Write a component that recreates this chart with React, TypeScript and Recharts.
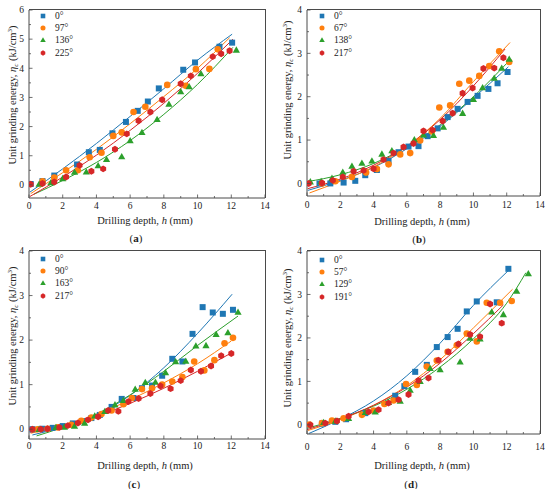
import React from 'react';
import { ComposedChart, Scatter, Line, XAxis, YAxis, Legend } from 'recharts';

// ---------- colours ----------
const BLUE = '#1f77b4';
const ORANGE = '#ff7f0e';
const GREEN = '#2ca02c';
const RED = '#d62728';
const AXIS = '#4a4a4a';
const TEXT = '#222';
const FONT = '"Liberation Serif", "Times New Roman", serif';

// ---------- shared axis ticks ----------
const xTicks = [0, 1, 2, 3, 4, 5, 6, 7, 8, 9, 10, 11, 12, 13, 14];
const xLabelTicks = [0, 2, 4, 6, 8, 10, 12, 14];
const yTicksA = [0, 0.5, 1, 1.5, 2, 2.5, 3, 3.5, 4, 4.5, 5, 5.5, 6];
const yTicks4 = [0, 0.5, 1, 1.5, 2, 2.5, 3, 3.5, 4];
const yLabelTicksA = [0, 1, 2, 3, 4, 5, 6];
const yLabelTicks4 = [0, 1, 2, 3, 4];

// ---------- panel (a) ----------
const aLabels = ['0°', '97°', '136°', '225°'];
const a0Pts = [[0.1, 0.03], [0.8, 0.13], [1.5, 0.32], [2.85, 0.7], [3.55, 1.12], [4.2, 1.2], [4.95, 1.77], [5.75, 2.16], [6.45, 2.54], [7.05, 2.86], [7.7, 3.31], [9.15, 3.95], [9.85, 4.2], [11.3, 4.74], [12.05, 4.88]];
const a97Pts = [[0.8, 0.12], [1.5, 0.25], [2.2, 0.5], [2.9, 0.5], [3.6, 0.95], [4.3, 1.1], [5.0, 1.68], [5.5, 1.8], [6.2, 2.5], [6.9, 2.68], [8.2, 3.43], [9.3, 3.4], [9.9, 3.97], [10.7, 3.98], [11.2, 4.65]];
const a136Pts = [[0.6, 0.03], [1.3, 0.08], [2.0, 0.22], [2.7, 0.44], [3.4, 0.45], [4.1, 0.66], [4.6, 0.88], [5.5, 0.97], [6.0, 1.52], [6.7, 1.8], [7.6, 2.25], [8.3, 2.77], [9.0, 3.2], [9.5, 3.37], [10.2, 3.82], [12.3, 4.63]];
const a225Pts = [[0.1, 0.02], [0.8, 0.05], [1.5, 0.1], [2.2, 0.27], [3.0, 0.67], [3.7, 0.47], [4.4, 0.55], [5.1, 1.22], [5.8, 1.75], [6.5, 2.2], [7.2, 2.5], [7.9, 2.92], [9.0, 3.47], [9.6, 3.74], [10.9, 4.4], [11.4, 4.5], [11.9, 4.6]];
const a0Fit = [[0.05, -0.25], [2, 0.55], [4, 1.42], [6, 2.35], [8, 3.3], [10, 4.28], [12.05, 5.17]];
const a97Fit = [[0.1, -0.3], [2, 0.42], [4, 1.22], [6, 2.1], [8, 3.03], [10, 4.0], [11.9, 5.05]];
const a136Fit = [[0.3, -0.32], [2, 0.15], [4, 0.77], [6, 1.52], [8, 2.42], [10, 3.45], [12.1, 4.72]];
const a225Fit = [[0.05, -0.4], [2, 0.27], [4, 1.02], [6, 1.87], [8, 2.8], [10, 3.83], [12.1, 5.0]];

// ---------- panel (b) ----------
const bLabels = ['0°', '67°', '138°', '217°'];
const b0Pts = [[0.75, 0.0], [1.4, 0.0], [2.2, 0.02], [2.9, 0.06], [3.5, 0.19], [4.2, 0.31], [4.9, 0.52], [5.5, 0.72], [6.1, 0.85], [6.7, 0.86], [7.25, 1.09], [7.85, 1.27], [8.45, 1.53], [9.05, 1.72], [9.65, 1.88], [10.25, 2.02], [10.9, 2.18], [11.45, 2.31], [12.05, 2.57]];
const b67Pts = [[0.9, 0.0], [1.7, 0.05], [2.7, 0.15], [3.55, 0.25], [4.2, 0.33], [4.9, 0.44], [5.6, 0.67], [6.2, 0.7], [6.8, 0.99], [7.5, 1.2], [7.95, 1.75], [8.6, 1.8], [9.15, 2.3], [9.75, 2.37], [10.35, 2.48], [10.95, 2.71], [11.55, 3.05], [12.15, 2.8]];
const b138Pts = [[0.2, 0.04], [0.85, 0.05], [1.5, 0.12], [2.15, 0.26], [2.7, 0.4], [3.3, 0.47], [3.9, 0.52], [4.5, 0.68], [5.1, 0.76], [6.45, 1.01], [7.0, 1.12], [7.6, 1.11], [8.2, 1.3], [9.35, 1.62], [10.0, 1.94], [10.55, 2.21], [11.25, 2.43], [11.7, 2.66], [12.15, 2.87]];
const b217Pts = [[0.1, 0.0], [0.9, 0.01], [1.55, 0.07], [2.15, 0.15], [2.8, 0.28], [3.4, 0.3], [4.0, 0.34], [4.6, 0.55], [5.2, 0.7], [5.8, 0.84], [6.4, 0.92], [7.0, 1.21], [7.55, 1.23], [8.15, 1.44], [8.75, 1.62], [9.35, 2.08], [9.95, 2.2], [10.6, 2.65], [11.25, 2.66], [11.8, 2.9]];
const b0Fit = [[0.05, -0.16], [2, 0.07], [4, 0.37], [6, 0.8], [8, 1.32], [10, 1.97], [12.1, 2.69]];
const b67Fit = [[0.15, -0.22], [2, 0.05], [4, 0.38], [6, 0.85], [8, 1.5], [10, 2.35], [12.2, 3.25]];
const b138Fit = [[0.0, 0.04], [2, 0.2], [4, 0.46], [6, 0.85], [8, 1.35], [10, 2.0], [12.25, 2.87]];
const b217Fit = [[0.05, -0.12], [2, 0.1], [4, 0.42], [6, 0.86], [8, 1.47], [10, 2.25], [11.9, 3.1]];

// ---------- panel (c) ----------
const cLabels = ['0°', '90°', '163°', '217°'];
const c0Pts = [[0.2, 0.0], [0.8, 0.01], [1.4, 0.03], [2.0, 0.07], [2.6, 0.13], [3.2, 0.18], [3.7, 0.25], [4.2, 0.32], [4.9, 0.5], [5.5, 0.68], [6.2, 0.7], [6.7, 0.92], [7.3, 0.98], [7.9, 1.2], [8.5, 1.58], [9.1, 1.52], [9.7, 2.14], [10.3, 2.74], [10.9, 2.62], [11.5, 2.59], [12.1, 2.68]];
const c90Pts = [[0.5, 0.0], [1.1, 0.01], [1.7, 0.04], [2.5, 0.1], [3.1, 0.19], [3.7, 0.26], [4.3, 0.34], [4.9, 0.42], [5.6, 0.56], [6.1, 0.7], [6.7, 0.9], [7.3, 0.92], [7.9, 1.0], [8.5, 1.07], [9.1, 1.17], [9.8, 1.52], [10.4, 1.32], [11.0, 1.55], [11.6, 1.93], [12.1, 2.05]];
const c163Pts = [[0.6, 0.0], [1.6, 0.04], [2.1, 0.05], [2.7, 0.07], [3.3, 0.14], [3.9, 0.3], [4.5, 0.4], [5.1, 0.55], [5.6, 0.65], [6.3, 0.9], [6.9, 1.05], [7.5, 1.06], [8.1, 1.27], [8.7, 1.52], [9.3, 1.53], [9.9, 1.87], [10.5, 1.88], [11.1, 2.13], [11.8, 2.17], [12.4, 2.63]];
const c217Pts = [[0.2, 0.0], [0.7, 0.0], [1.1, 0.01], [1.8, 0.04], [2.3, 0.08], [2.9, 0.14], [3.5, 0.21], [4.1, 0.28], [4.7, 0.42], [5.3, 0.4], [5.9, 0.62], [6.5, 0.69], [7.2, 0.8], [7.8, 0.97], [8.4, 0.91], [9.0, 1.09], [9.6, 1.33], [10.2, 1.3], [10.8, 1.42], [11.4, 1.65], [12.0, 1.7]];
const c0Fit = [[0.2, -0.13], [2, 0.05], [4, 0.32], [6, 0.76], [8, 1.38], [10, 2.15], [12.05, 3.03]];
const c90Fit = [[0.1, -0.09], [2, 0.08], [4, 0.33], [6, 0.66], [8, 1.04], [10, 1.47], [12.0, 1.98]];
const c163Fit = [[0.45, -0.15], [2, 0.04], [4, 0.34], [6, 0.77], [8, 1.3], [10, 1.88], [12.4, 2.54]];
const c217Fit = [[0.05, -0.07], [2, 0.07], [4, 0.29], [6, 0.58], [8, 0.92], [10, 1.3], [11.95, 1.7]];

// ---------- panel (d) ----------
const dLabels = ['0°', '57°', '129°', '191°'];
const d0Pts = [[0.05, 0.0], [0.9, 0.03], [1.7, 0.07], [2.35, 0.13], [3.5, 0.27], [5.3, 0.67], [5.85, 0.89], [6.5, 1.22], [7.2, 1.38], [7.8, 1.79], [8.45, 2.02], [9.05, 2.21], [9.6, 2.61], [10.2, 2.84], [11.4, 2.82], [12.1, 3.59]];
const d57Pts = [[0.15, 0.01], [0.9, 0.04], [1.5, 0.1], [2.2, 0.15], [3.3, 0.23], [4.0, 0.33], [4.65, 0.48], [5.2, 0.56], [5.95, 0.94], [6.6, 0.92], [7.2, 1.34], [7.8, 1.48], [8.45, 1.68], [9.0, 1.83], [9.6, 2.1], [10.2, 1.92], [10.8, 2.81], [11.6, 2.81], [12.3, 2.85]];
const d129Pts = [[1.0, 0.06], [1.7, 0.09], [2.5, 0.15], [3.5, 0.29], [4.1, 0.3], [4.9, 0.52], [5.6, 0.55], [6.2, 0.8], [6.8, 1.0], [7.4, 1.3], [8.0, 1.27], [9.2, 1.45], [9.8, 2.0], [10.4, 1.98], [11.1, 2.6], [11.8, 2.54], [12.6, 3.08], [13.3, 3.48]];
const d191Pts = [[0.2, 0.0], [1.1, 0.04], [1.8, 0.09], [2.5, 0.2], [3.7, 0.3], [4.3, 0.35], [4.9, 0.5], [5.5, 0.58], [6.1, 0.7], [6.7, 1.02], [7.3, 1.08], [7.9, 1.49], [8.5, 1.68], [9.1, 1.86], [9.8, 2.08], [10.4, 2.03], [11.0, 2.78], [11.7, 2.34]];
const d0Fit = [[0.1, -0.2], [2, 0.13], [4, 0.55], [6, 1.13], [8, 1.88], [10, 2.75], [12.1, 3.55]];
const d57Fit = [[0.05, -0.13], [2, 0.12], [4, 0.45], [6, 0.9], [8, 1.5], [10, 2.23], [12.35, 3.12]];
const d129Fit = [[0.0, -0.08], [2, 0.15], [4, 0.43], [6, 0.82], [8, 1.33], [10, 1.98], [12, 2.8], [13.15, 3.5]];
const d191Fit = [[0.0, -0.11], [2, 0.14], [4, 0.45], [6, 0.87], [8, 1.42], [10, 2.1], [11.8, 2.76]];

// ---------- helpers ----------
type Pt = { x: number; y: number };
const toPts = (arr: number[][]): Pt[] => arr.map(([x, y]) => ({ x, y }));

type MarkerKind = 'square' | 'circle' | 'triangle' | 'hexagon';
const seriesColors = [BLUE, ORANGE, GREEN, RED];
const seriesMarkers: MarkerKind[] = ['square', 'circle', 'triangle', 'hexagon'];

function marker(kind: MarkerKind, cx: number, cy: number, color: string, s: number) {
  if (kind === 'square') return <rect x={cx - s} y={cy - s} width={2 * s} height={2 * s} fill={color} />;
  if (kind === 'circle') return <circle cx={cx} cy={cy} r={s * 1.1} fill={color} />;
  if (kind === 'triangle') {
    const h = s * 1.2;
    return <polygon points={`${cx},${cy - h} ${cx + h},${cy + h * 0.75} ${cx - h},${cy + h * 0.75}`} fill={color} />;
  }
  const r = s * 1.15;
  const p: string[] = [];
  for (let i = 0; i < 6; i++) {
    const a = (Math.PI / 3) * i - Math.PI / 2;
    p.push(`${cx + r * Math.cos(a)},${cy + r * Math.sin(a)}`);
  }
  return <polygon points={p.join(' ')} fill={color} />;
}

type PanelProps = {
  left: number; top: number; width: number; height: number;
  margin: { top: number; right: number; bottom: number; left: number };
  yDomain: [number, number]; yTicks: number[]; yLabelTicks: number[];
  labels: string[]; points: number[][][]; fits: number[][][];
  letter: string; xTickDy: number;
  xLabelPos: [number, number]; yLabelPos: [number, number]; letterPos: [number, number];
  legendPos: [number, number];
};

const AX_H = 20;
const AX_W = 20;

function Panel(p: PanelProps) {
  const plotW = p.width - p.margin.left - p.margin.right;
  const plotH = p.height - p.margin.top - p.margin.bottom;
  const XTick = (props: any) => {
    const { x, y, payload } = props;
    const major = xLabelTicks.includes(payload.value);
    return (
      <g>
        <line x1={x} x2={x} y1={y} y2={y - (major ? 3.5 : 2)} stroke={AXIS} strokeWidth={0.8} />
        {major && (
          <text x={x} y={y + p.xTickDy} textAnchor="middle" fontSize={9.5} fontFamily={FONT} fill={TEXT}>{payload.value}</text>
        )}
      </g>
    );
  };
  const YTick = (props: any) => {
    const { x, y, payload } = props;
    const major = p.yLabelTicks.includes(payload.value);
    return (
      <g>
        <line x1={x} x2={x + (major ? 3.5 : 2)} y1={y} y2={y} stroke={AXIS} strokeWidth={0.8} />
        {major && (
          <text x={x - 5} y={y + 3.3} textAnchor="end" fontSize={9.5} fontFamily={FONT} fill={TEXT}>{payload.value}</text>
        )}
      </g>
    );
  };
  const legendContent = () => (
    <div style={{ fontFamily: FONT, fontSize: 9.5, color: TEXT, lineHeight: '12px' }}>
      {p.labels.map((lab, i) => (
        <div key={lab} style={{ display: 'flex', alignItems: 'center', height: 12.2 }}>
          <svg width={10} height={10} style={{ marginRight: 7 }}>
            {marker(seriesMarkers[i], 5, 5, seriesColors[i], 2.3)}
          </svg>
          <span>{lab}</span>
        </div>
      ))}
    </div>
  );
  const baseText: React.CSSProperties = {
    position: 'absolute', fontFamily: FONT, fontSize: 10.5, color: TEXT, whiteSpace: 'nowrap', lineHeight: 1,
  };
  const m = { top: p.margin.top, right: p.margin.right, bottom: p.margin.bottom - AX_H, left: p.margin.left - AX_W };
  return (
    <div style={{ position: 'absolute', left: p.left, top: p.top, width: p.width, height: p.height }}>
      <ComposedChart width={p.width} height={p.height} margin={m}>
        <XAxis
          dataKey="x" type="number" domain={[0, 14]} ticks={xTicks} allowDataOverflow
          height={AX_H} tickSize={0} tickMargin={0} tickLine={false} interval={0}
          axisLine={{ stroke: AXIS }} tick={XTick}
        />
        <YAxis
          dataKey="y" type="number" domain={p.yDomain} ticks={p.yTicks} allowDataOverflow
          width={AX_W} tickSize={0} tickMargin={0} tickLine={false} interval={0}
          axisLine={{ stroke: AXIS }} tick={YTick}
        />
        {p.fits.map((f, i) => (
          <Line
            key={'fit' + i} data={toPts(f)} dataKey="y" type="monotone" stroke={seriesColors[i]}
            strokeWidth={1} dot={false} activeDot={false} isAnimationActive={false} legendType="none"
          />
        ))}
        {p.points.map((s, i) => (
          <Scatter
            key={'pts' + i} name={p.labels[i]} data={toPts(s)} dataKey="y" fill={seriesColors[i]}
            isAnimationActive={false}
            shape={(sp: any) => marker(seriesMarkers[i], sp.cx, sp.cy, seriesColors[i], 3)}
          />
        ))}
        <Legend
          layout="vertical" align="center" verticalAlign="middle" content={legendContent}
          wrapperStyle={{ left: p.legendPos[0], top: p.legendPos[1], width: 'auto', height: 'auto' }}
        />
      </ComposedChart>
      {/* top and right edges of the plot box */}
      <div
        style={{
          position: 'absolute', left: p.margin.left, top: p.margin.top - 1,
          width: plotW + 1, height: 1, background: AXIS, pointerEvents: 'none', zIndex: 5,
        }}
      />
      <div
        style={{
          position: 'absolute', left: p.margin.left + plotW, top: p.margin.top - 1,
          width: 1, height: plotH + 1, background: AXIS, pointerEvents: 'none', zIndex: 5,
        }}
      />
      <div style={{ ...baseText, left: p.xLabelPos[0], top: p.xLabelPos[1], transform: 'translate(-50%, -50%)' }}>
        Drilling depth, <i>h</i> (mm)
      </div>
      <div style={{ ...baseText, left: p.yLabelPos[0], top: p.yLabelPos[1], transform: 'translate(-50%, -50%) rotate(-90deg)' }}>
        Unit grinding energy, <i>η</i><i style={{ fontSize: 7, verticalAlign: -2 }}>c</i> (kJ/cm<span style={{ fontSize: 7, verticalAlign: 4 }}>3</span>)
      </div>
      <div style={{ ...baseText, fontSize: 11, left: p.letterPos[0], top: p.letterPos[1], transform: 'translate(-50%, -50%)' }}>
        (<b>{p.letter}</b>)
      </div>
    </div>
  );
}

export default function App() {
  return (
    <div style={{ position: 'absolute', left: 0, top: 0, width: 550, height: 489, background: '#fff', overflow: 'hidden' }}>
      <Panel
        left={0} top={0} width={275} height={245}
        margin={{ top: 10, right: 10, bottom: 47, left: 29 }}
        yDomain={[-0.45, 6]} yTicks={yTicksA} yLabelTicks={yLabelTicksA} xTickDy={10.5}
        labels={aLabels} points={[a0Pts, a97Pts, a136Pts, a225Pts]} fits={[a0Fit, a97Fit, a136Fit, a225Fit]}
        letter="a" xLabelPos={[145, 221]} yLabelPos={[13, 95]} letterPos={[136, 238]} legendPos={[38, 10]}
      />
      <Panel
        left={275} top={0} width={275} height={245}
        margin={{ top: 10, right: 10, bottom: 49, left: 32 }}
        yDomain={[-0.29, 4]} yTicks={yTicks4} yLabelTicks={yLabelTicks4} xTickDy={12.3}
        labels={bLabels} points={[b0Pts, b67Pts, b138Pts, b217Pts]} fits={[b0Fit, b67Fit, b138Fit, b217Fit]}
        letter="b" xLabelPos={[147, 222]} yLabelPos={[13, 90]} letterPos={[144, 239]} legendPos={[42, 10]}
      />
      <Panel
        left={0} top={245} width={275} height={244}
        margin={{ top: 6, right: 10, bottom: 50, left: 29 }}
        yDomain={[-0.22, 4]} yTicks={yTicks4} yLabelTicks={yLabelTicks4} xTickDy={10}
        labels={cLabels} points={[c0Pts, c90Pts, c163Pts, c217Pts]} fits={[c0Fit, c90Fit, c163Fit, c217Fit]}
        letter="c" xLabelPos={[145, 221]} yLabelPos={[13, 91]} letterPos={[134, 239]} legendPos={[38, 8]}
      />
      <Panel
        left={275} top={245} width={275} height={244}
        margin={{ top: 6, right: 10, bottom: 55, left: 32 }}
        yDomain={[-0.21, 4]} yTicks={yTicks4} yLabelTicks={yLabelTicks4} xTickDy={15.5}
        labels={dLabels} points={[d0Pts, d57Pts, d129Pts, d191Pts]} fits={[d0Fit, d57Fit, d129Fit, d191Fit]}
        letter="d" xLabelPos={[147, 221]} yLabelPos={[13, 93]} letterPos={[136, 239]} legendPos={[42, 9]}
      />
    </div>
  );
}
